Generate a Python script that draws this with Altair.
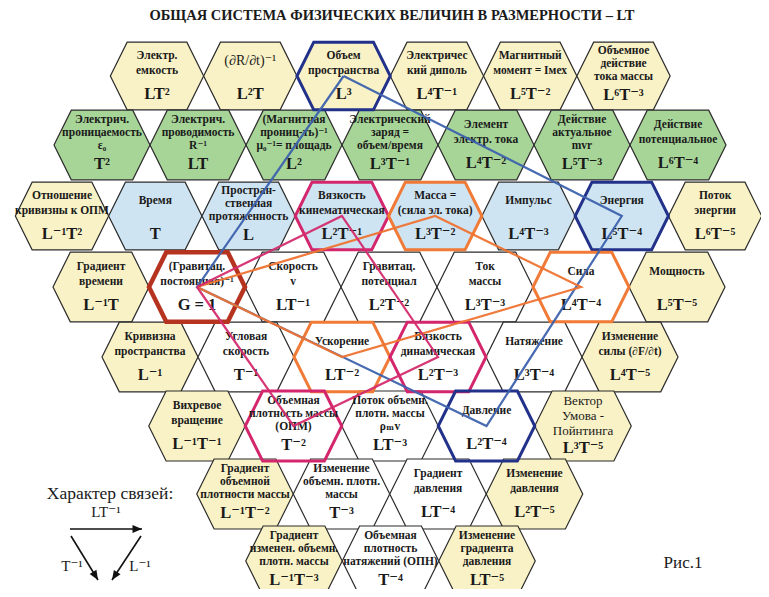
import math
import altair as alt
import pandas as pd

TITLE = "ОБЩАЯ СИСТЕМА  ФИЗИЧЕСКИХ  ВЕЛИЧИН  В  РАЗМЕРНОСТИ – LT"

# ---- hexagon contents, row by row (label lines separated by "|") ----
R1 = ["Электр.|емкость", "(∂R/∂t)⁻¹", "Объем|пространства", "Электричес|кий диполь",
      "Магнитный|момент = Iмех", "Объемное|действие|тока массы"]
F1 = ["LT²", "L²T", "L³", "L⁴T⁻¹", "L⁵T⁻²", "L⁶T⁻³"]
R2 = ["Электрич.|проницаемость|ε₀", "Электрич.|проводимость|R⁻¹",
      "(Магнитная|прониц-ть)⁻¹|μ₀⁻¹= площадь", "Электрический|заряд =|объем/время",
      "Элемент|электр. тока", "Действие|актуальное|mvr", "Действие|потенциальное"]
F2 = ["T²", "LT", "L²", "L³T⁻¹", "L⁴T⁻²", "L⁵T⁻³", "L⁶T⁻⁴"]
R3 = ["Отношение|кривизны к ОПМ", "Время", "Простран-|ственная|протяженность",
      "Вязкость|кинематическая", "Масса =|(сила эл. тока)", "Импульс", "Энергия", "Поток|энергии"]
F3 = ["L⁻¹T²", "T", "L", "L²T⁻¹", "L³T⁻²", "L⁴T⁻³", "L⁵T⁻⁴", "L⁶T⁻⁵"]
R4 = ["Градиент|времени", "(Гравитац.|постоянная)⁻¹", "Скорость|v", "Гравитац.|потенциал",
      "Ток|массы", "Сила", "Мощность"]
F4 = ["L⁻¹T", "G = 1", "LT⁻¹", "L²T⁻²", "L³T⁻³", "L⁴T⁻⁴", "L⁵T⁻⁵"]
R5 = ["Кривизна|пространства", "Угловая|скорость", "Ускорение", "Вязкость|динамическая",
      "Натяжение", "Изменение|силы (∂F/∂t)"]
F5 = ["L⁻¹", "T⁻¹", "LT⁻²", "L²T⁻³", "L³T⁻⁴", "L⁴T⁻⁵"]
R6 = ["Вихревое|вращение", "Объемная|плотность массы|(ОПМ)", "Поток объемн.|плотн. массы|ρₘv",
      "Давление", "Вектор|Умова -|Пойнтинга"]
F6 = ["L⁻¹T⁻¹", "T⁻²", "LT⁻³", "L²T⁻⁴", "L³T⁻⁵"]
R7 = ["Градиент|объемной|плотности массы", "Изменение|объемн. плотн.|массы",
      "Градиент|давления", "Изменение|давления"]
F7 = ["L⁻¹T⁻²", "T⁻³", "LT⁻⁴", "L²T⁻⁵"]
R8 = ["Градиент|изменен. объемн.|плотн. массы", "Объемная|плотность|натяжений (ОПН)",
      "Изменение|градиента|давления"]
F8 = ["L⁻¹T⁻³", "T⁻⁴", "LT⁻⁵"]

ROW_LABELS = [R1, R2, R3, R4, R5, R6, R7, R8]
ROW_FORMULAS = [F1, F2, F3, F4, F5, F6, F7, F8]
ROW_KINDS = ["yyyyyy", "ggggggg", "ybbbbbby", "ywwwwwy", "ywwwwy", "ywwwy", "ywwy", "ywy"]

# highlighted hexagons and the connecting quadrilaterals
HIGHLIGHT = {"L³": "navy", "L⁵T⁻⁴": "navy", "L²T⁻⁴": "navy", "G = 1": "red",
             "L³T⁻²": "orange", "L⁴T⁻⁴": "orange", "LT⁻²": "orange",
             "L²T⁻¹": "crimson", "L²T⁻³": "crimson", "T⁻²": "crimson"}
LINKS = {"navy": ["L³", "G = 1", "L²T⁻⁴", "L⁵T⁻⁴", "L³"],
         "orange": ["G = 1", "L³T⁻²", "L⁴T⁻⁴", "LT⁻²", "G = 1"],
         "crimson": ["G = 1", "L²T⁻¹", "L²T⁻³", "T⁻²", "G = 1"]}

LEGEND_TITLE = "Характер связей:"
LEGEND_ARROWS = ["LT⁻¹", "T⁻¹", "L⁻¹"]
FIG_LABEL = "Рис.1"

# ---- layout (styles / geometry) ----
ROW_Y = [76, 145, 216, 287, 357, 426, 494, 561]
ROW_X0 = [157, 102, 62, 101, 150, 197, 245, 294]
ROW_PITCH = [93.3, 96, 93.3, 96, 96, 96.5, 96.5, 96.5]
FILL = {"y": "#f9f2c6", "g": "#a7d598", "b": "#cfe4f2", "w": "#ffffff"}
OUTLINE = {"navy": "#22318a", "red": "#b5331f", "orange": "#f07a36", "crimson": "#d3266c"}
LINE = {"navy": "#3d62ad", "orange": "#ee7331", "crimson": "#d42c6e"}
HEX = "M-1,0L-0.64,-0.725L0.64,-0.725L1,0L0.64,0.725L-0.64,0.725Z"
ARROW = "M0,0L-1,-0.42L-1,0.42Z"
SERIF = "Liberation Serif, Times New Roman, DejaVu Serif, serif"

hexes, texts = [], []
for r, (labs, forms, kinds) in enumerate(zip(ROW_LABELS, ROW_FORMULAS, ROW_KINDS)):
    for c, (lab, f, k) in enumerate(zip(labs, forms, kinds)):
        cx = ROW_X0[r] + c * ROW_PITCH[r]
        cy = ROW_Y[r]
        hexes.append(dict(id=f, x=cx, y=cy, fill=FILL[k], size=ROW_PITCH[r] ** 2,
                          hl=HIGHLIGHT.get(f, "")))
        lines = lab.split("|")
        n = len(lines)
        special = lab.startswith("Вектор")
        start = {1: -15, 2: -20, 3: -25}[n]
        step = 14.5 if n < 3 else 13
        fy = cy + (19 if n == 3 else 18)
        if special:
            start, step, fy = -25, 15, cy + 22
        for i, t in enumerate(lines):
            big = t.startswith("(∂") or special
            texts.append(dict(x=cx, y=cy + start + i * step, text=t,
                              size=(14 if t.startswith("(∂") else 13) if big else 11.5,
                              weight="normal" if big else "bold"))
        texts.append(dict(x=cx, y=fy, text=f, size=16.5, weight="bold"))

hex_df = pd.DataFrame(hexes)
hl_df = hex_df[hex_df.hl != ""].copy()
hl_df["stroke"] = hl_df.hl.map(OUTLINE)
hl_df["sw"] = [4.5 if h == "red" else 3 for h in hl_df.hl]
text_df = pd.DataFrame(texts)

pos = {h["id"]: (h["x"], h["y"]) for h in hexes}
link_rows = []
for g, ids in LINKS.items():
    for i, hid in enumerate(ids):
        link_rows.append(dict(g=g, i=i, x=pos[hid][0], y=pos[hid][1], color=LINE[g]))
link_df = pd.DataFrame(link_rows)

# legend geometry
arrows = pd.DataFrame([
    dict(x=70, y=529, x2=142, y2=529),
    dict(x=71, y=536, x2=98, y2=580),
    dict(x=141, y=536, x2=112, y2=580),
])
arrows["angle"] = [math.degrees(math.atan2(r.y2 - r.y, r.x2 - r.x)) % 360 for r in arrows.itertuples()]
misc_df = pd.DataFrame([
    dict(x=392, y=16, text=TITLE, size=14.5, weight="bold"),
    dict(x=110, y=494, text=LEGEND_TITLE, size=17.5, weight="normal"),
    dict(x=106, y=512, text=LEGEND_ARROWS[0], size=15, weight="normal"),
    dict(x=72, y=566, text=LEGEND_ARROWS[1], size=15, weight="normal"),
    dict(x=140, y=566, text=LEGEND_ARROWS[2], size=15, weight="normal"),
    dict(x=683, y=563, text=FIG_LABEL, size=17, weight="normal"),
])
all_text = pd.concat([text_df, misc_df], ignore_index=True)

X = lambda f="x": alt.X(f"{f}:Q", scale=alt.Scale(domain=[8, 761], nice=False, zero=False), axis=None)
Y = lambda f="y": alt.Y(f"{f}:Q", scale=alt.Scale(domain=[8, 589], nice=False, zero=False, reverse=True), axis=None)

base_hex = alt.Chart(hex_df).mark_point(shape=HEX, filled=True, opacity=1, stroke="#2b2b2b",
                                         strokeWidth=1.2).encode(
    x=X(), y=Y(), fill=alt.Fill("fill:N", scale=None), size=alt.Size("size:Q", scale=None))

hl_hex = alt.Chart(hl_df).mark_point(shape=HEX, filled=False, opacity=1).encode(
    x=X(), y=Y(), stroke=alt.Stroke("stroke:N", scale=None),
    strokeWidth=alt.StrokeWidth("sw:Q", scale=None), size=alt.Size("size:Q", scale=None))


def text_layer(weight):
    return alt.Chart(all_text[all_text.weight == weight]).mark_text(
        font=SERIF, baseline="middle", align="center", color="#1a1a1a", fontWeight=weight).encode(
        x=X(), y=Y(), text="text:N", size=alt.Size("size:Q", scale=None))


links = alt.Chart(link_df).mark_line(strokeWidth=2.2, opacity=0.95).encode(
    x=X(), y=Y(), detail="g:N", order="i:Q", stroke=alt.Stroke("color:N", scale=None))

arrow_lines = alt.Chart(arrows).mark_rule(color="#111", strokeWidth=1.6).encode(
    x=X(), y=Y(), x2="x2:Q", y2="y2:Q")
arrow_heads = alt.Chart(arrows).mark_point(shape=ARROW, filled=True, opacity=1, color="#111", size=360).encode(
    x=X("x2"), y=Y("y2"), angle=alt.Angle("angle:Q", scale=None))

chart = alt.layer(base_hex, hl_hex, text_layer("bold"), text_layer("normal"), links,
                  arrow_lines, arrow_heads).properties(
    width=753, height=581, padding=0, autosize="none", background="white"
).configure_view(stroke=None)

chart.save("out.html", embed_options={"renderer": "svg", "actions": False})
